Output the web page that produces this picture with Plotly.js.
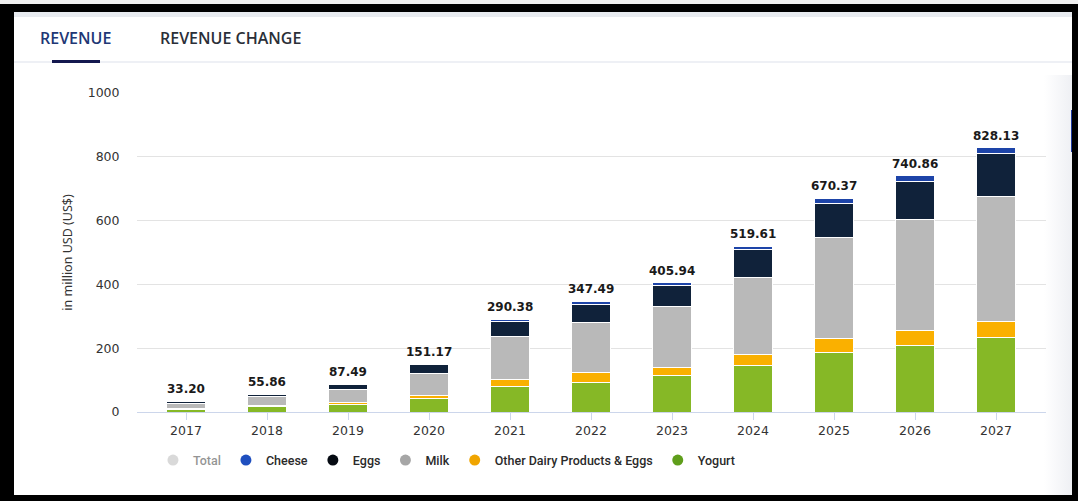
<!DOCTYPE html>
<html>
<head>
<meta charset="utf-8">
<script src="https://cdn.plot.ly/plotly-3.0.1.min.js"></script>
<style>
html,body{margin:0;padding:0;width:1078px;height:501px;overflow:hidden;background:#fff;}
#topstrip{position:absolute;left:0;top:0;width:1078px;height:4px;background:#f0f0f0;}
#band{position:absolute;left:14px;top:12px;width:1058px;height:5px;background:#e8ebf0;}
#sep{position:absolute;left:14px;top:61px;width:1058px;height:2px;background:#eef0f5;}
#uline{position:absolute;left:52px;top:60px;width:48px;height:3px;background:#14184f;}
.tab{position:absolute;top:28px;font-family:'Open Sans',sans-serif;font-weight:600;font-size:16px;line-height:20px;white-space:nowrap;}
#t1{left:40px;color:#213775;}
#t2{left:160px;color:#2b2f38;}
#shade{position:absolute;left:1044px;top:75px;width:28px;height:420px;background:linear-gradient(to right,rgba(255,255,255,0),rgba(222,225,233,0.5));pointer-events:none;}
#blue{position:absolute;left:1071px;top:110px;width:2px;height:42px;background:#1f3aa0;}
#chart{position:absolute;left:0;top:0;width:1078px;height:501px;}
#frame{position:absolute;left:0;top:4px;width:1078px;height:497px;box-sizing:border-box;border-style:solid;border-color:#000;border-width:8px 6px 6px 14px;pointer-events:none;}
</style>
</head>
<body>
<div id="topstrip"></div>
<div id="band"></div>
<div id="sep"></div>
<div id="uline"></div>
<div class="tab" id="t1">REVENUE</div>
<div class="tab" id="t2">REVENUE CHANGE</div>
<div id="chart"></div>
<div id="shade"></div>
<div id="blue"></div>
<div id="frame"></div>
<script>
// ---- data (million USD) ----
const years = ['2017','2018','2019','2020','2021','2022','2023','2024','2025','2026','2027'];
const yogurt = [9, 16, 25, 41, 79, 94, 114, 147, 188, 207, 234];
const otherDairy = [2, 3, 5, 11, 23, 29, 27, 33, 41, 47, 50];
const milk = [17, 30, 41, 70, 134, 159, 189, 242, 319, 348, 391];
const eggs = [5, 6.5, 16, 28, 48, 55, 66, 86, 107, 122, 135];
const cheese = [0.2, 0.36, 0.49, 1.17, 6.38, 10.49, 9.94, 11.61, 15.37, 16.86, 18.13];
const totals = [33.20, 55.86, 87.49, 151.17, 290.38, 347.49, 405.94, 519.61, 670.37, 740.86, 828.13];

const seriesNames = ['Yogurt', 'Other Dairy Products & Eggs', 'Milk', 'Eggs', 'Cheese'];
const seriesValues = [yogurt, otherDairy, milk, eggs, cheese];
const barColors = ['#86b826', '#fab000', '#b9b9b9', '#10223a', '#1d44a8'];
const legendColors = ['#5f9e1b', '#f0a500', '#a6a6a6', '#050a12', '#1f4fbf'];

const traces = [];
seriesNames.forEach((name, i) => {
  traces.push({
    type: 'bar', name: name, x: years, y: seriesValues[i],
    legendgroup: name, showlegend: false,
    marker: {color: barColors[i], line: {color: '#ffffff', width: 1}},
    hovertemplate: '%{x}: %{y:.2f}<extra>' + name + '</extra>'
  });
});
// Total (hidden in legend, grayed)
traces.push({
  type: 'scatter', mode: 'markers', name: 'Total', x: years, y: totals,
  visible: 'legendonly', marker: {color: '#b3b3b3', size: 11, symbol: 'circle'}
});
// legend entries (circle symbols) in reference order
['Cheese', 'Eggs', 'Milk', 'Other Dairy Products & Eggs', 'Yogurt'].forEach(name => {
  const i = seriesNames.indexOf(name);
  traces.push({
    type: 'scatter', mode: 'markers', name: name, x: [null], y: [null],
    legendgroup: name, showlegend: true, hoverinfo: 'skip',
    marker: {color: legendColors[i], size: 11, symbol: 'circle'}
  });
});

// total labels above each stack (category index positions)
const annotations = totals.map((t, i) => ({
  x: i, y: t, xref: 'x', yref: 'y', text: '<b>' + t.toFixed(2) + '</b>',
  showarrow: false, yanchor: 'bottom', yshift: 3,
  font: {family: 'DejaVu Sans', size: 12, color: '#1a1a1a'}
}));

const tickFont = {family: 'DejaVu Sans', size: 12.5, color: '#333333'};
const layout = {
  width: 1078, height: 501,
  paper_bgcolor: 'rgba(0,0,0,0)', plot_bgcolor: 'rgba(0,0,0,0)',
  margin: {l: 137, r: 32, t: 93, b: 89, pad: 0},
  barmode: 'stack', bargap: 0.53,
  showlegend: true,
  xaxis: {
    type: 'category', range: [-0.605, 10.617], showgrid: false,
    showline: true, linecolor: '#ccd6eb', linewidth: 1,
    ticks: 'outside', ticklen: 7, tickcolor: '#ccd6eb', tickwidth: 1,
    tickfont: tickFont, fixedrange: true
  },
  yaxis: {
    range: [0, 1000], tick0: 0, dtick: 200, showgrid: true, gridcolor: '#e3e3e3', gridwidth: 1,
    zeroline: false, showline: false,
    ticks: 'outside', ticklen: 14, tickcolor: 'rgba(0,0,0,0)',
    tickfont: tickFont, fixedrange: true,
    title: {text: 'in million USD (US$)', font: {family: 'Noto Sans', size: 12.5, color: '#333333'}, standoff: 12}
  },
  legend: {
    orientation: 'h', x: 0.341, xanchor: 'center', y: -0.152, yanchor: 'middle',
    traceorder: 'normal', itemwidth: 30, bgcolor: 'rgba(0,0,0,0)',
    font: {family: 'Roboto', size: 12.5, color: '#2a2a2a', weight: 500}
  },
  annotations: annotations,
  hovermode: 'closest'
};

Plotly.newPlot('chart', traces, layout, {displayModeBar: false});
</script>
</body>
</html>
